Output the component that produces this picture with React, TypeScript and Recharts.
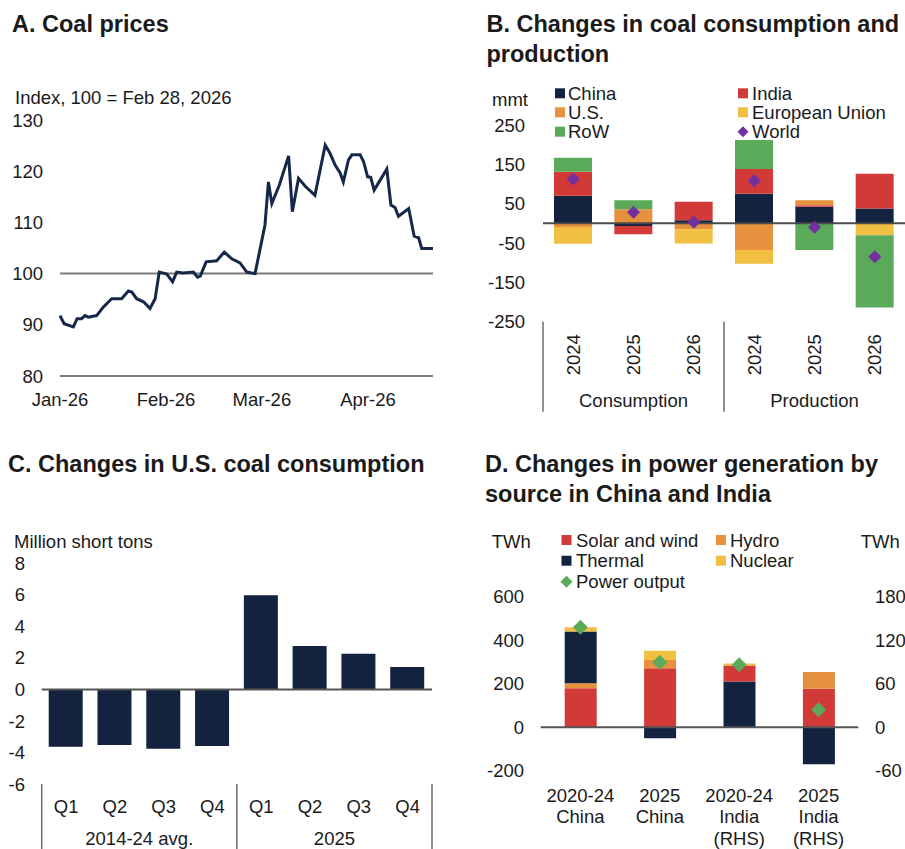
import React from "react";
import {
  LineChart,
  Line,
  BarChart,
  Bar,
  ComposedChart,
  XAxis,
  YAxis,
  ReferenceLine,
} from "recharts";

const FONT = '"Liberation Sans", Arial, Helvetica, sans-serif';
const INK = "#1a1a1a";
const NAVY = "#13233f";
const RED = "#d23a38";
const ORANGE = "#e5913d";
const YELLOW = "#f1bf42";
const GREEN = "#5aaa5a";
const PURPLE = "#7030a0";
const RULE = "#6b6b6b";
const FS = 18.5;

// A. coal price index (day offset from Jan 1, 2026)
const coalDays = [
  0, 1.2, 3.9, 5, 6.3, 7.3, 8.3, 10.7, 12.7, 15.1,
  18, 20, 21, 22.4, 24.4, 26.3, 27.8, 29, 31.2, 32.9,
  34.1, 36, 39, 40.2, 41, 42.7, 45.8, 48, 50.2, 52.6,
  54.6, 57, 59.9, 60.9, 61.9, 64.1, 66.8, 67.9, 69.7, 71.6,
  74.5, 77.5, 78.9, 80.4, 81.9, 82.8, 84.3, 85.3, 87.7, 88.7,
  89.9, 90.8, 91.8, 95.5, 96.7, 97.9, 98.9, 101.9, 103.5, 104.8,
  105.7, 109,
];
const coalIndex = [
  91.8, 90.2, 89.6, 91.2, 91.2, 91.8, 91.5, 91.8, 93.5, 95.1,
  95.1, 96.6, 96.4, 95.1, 94.5, 93.2, 95.1, 100.3, 99.9, 98.4,
  100.3, 100.1, 100.3, 99.3, 99.5, 102.3, 102.5, 104.2, 102.9, 102.1,
  100.3, 100, 109.5, 117.9, 113.7, 117.3, 123, 112.1, 118.6, 117.1,
  115.3, 125.1, 123.5, 121.2, 119.6, 117.9, 122.2, 123.2, 123.2, 121.9,
  118.9, 118.8, 116.3, 120.4, 113.4, 112.9, 111.2, 112.7, 107.3, 107,
  104.9, 104.9,
];
const monthTicks = [0, 31, 59, 90];
const monthLabels = ["Jan-26", "Feb-26", "Mar-26", "Apr-26"];
const priceTicks = [80, 90, 100, 110, 120, 130];

// B. coal consumption / production changes, mmt
const coalYears = ["2024", "2025", "2026", "2024", "2025", "2026"];
const coalGroups = ["Consumption", "Production"];
const chinaCoal = [70, -7, 8, 75, 42, 38];
const indiaCoal = [61, -21, 47, 63, 4, 88];
const usCoal = [-9, 36, -15, -68, 13, 0];
const euCoal = [-43, 0, -36, -35, 0, -30];
const rowCoal = [36, 23, 0, 74, -68, -184];
const worldCoal = [113, 28, 2.5, 108, -10, -85];
const mmtTicks = [-250, -150, -50, 50, 150, 250];

// C. U.S. coal consumption changes, million short tons
const usQuarters = ["Q1", "Q2", "Q3", "Q4", "Q1", "Q2", "Q3", "Q4"];
const usPeriods = ["2014-24 avg.", "2025"];
const usChange = [-3.64, -3.53, -3.76, -3.59, 5.98, 2.75, 2.26, 1.42];
const usTicks = [-6, -4, -2, 0, 2, 4, 6, 8];

// D. power generation changes, TWh (India on RHS)
const powerLabels = [
  ["2020-24", "China"],
  ["2025", "China"],
  ["2020-24", "India", "(RHS)"],
  ["2025", "India", "(RHS)"],
];
const chinaSolar = [179, 271, null, null];
const chinaHydro = [23, 38, null, null];
const chinaThermal = [238, -51, null, null];
const chinaNuclear = [20, 42, null, null];
const chinaOutput = [460, 299, null, null];
const indiaThermal = [null, null, 63, -51];
const indiaSolar = [null, null, 22, 53];
const indiaHydro = [null, null, 0, 23];
const indiaNuclear = [null, null, 3, 0];
const indiaOutput = [null, null, 86, 24];
const leftTwh = [-200, 0, 200, 400, 600];
const rightTwh = [-60, 0, 60, 120, 180];

const priceData = coalDays.map((d, i) => ({ day: d, value: coalIndex[i] }));
const coalData = coalYears.map((y, i) => ({
  key: `${coalGroups[Math.floor(i / 3)]} ${y}`,
  china: chinaCoal[i],
  india: indiaCoal[i],
  us: usCoal[i],
  eu: euCoal[i],
  row: rowCoal[i],
  world: worldCoal[i],
}));
const usData = usQuarters.map((q, i) => ({ key: `${q}-${i}`, value: usChange[i] }));
const powerData = powerLabels.map((l, i) => ({
  key: l.join(" "),
  chinaSolar: chinaSolar[i],
  chinaHydro: chinaHydro[i],
  chinaThermal: chinaThermal[i],
  chinaNuclear: chinaNuclear[i],
  chinaOutput: chinaOutput[i],
  indiaThermal: indiaThermal[i],
  indiaSolar: indiaSolar[i],
  indiaHydro: indiaHydro[i],
  indiaNuclear: indiaNuclear[i],
  indiaOutput: indiaOutput[i],
}));

const tickStyle = { fill: INK, fontSize: FS };

const diamond = (color: string, r: number) => (props: any) => {
  const { cx, cy, index } = props;
  if (cx == null || cy == null || !isFinite(cy)) return <g key={`d-${index}`} />;
  return (
    <path
      key={`d-${index}`}
      d={`M${cx},${cy - r}L${cx + r},${cy}L${cx},${cy + r}L${cx - r},${cy}Z`}
      fill={color}
    />
  );
};

const YearTick = (props: any) => {
  const { x, y, payload, index } = props;
  const half = payload?.offset || 30.2;
  const cy = y + 33;
  return (
    <g>
      <text
        x={x}
        y={cy + 6.6}
        transform={`rotate(-90 ${x} ${cy})`}
        textAnchor="middle"
        fontSize={FS}
        fill={INK}
      >
        {coalYears[index]}
      </text>
      {index % 3 === 0 && (
        <>
          <line x1={x - half} x2={x - half} y1={y} y2={y + 90} stroke={RULE} strokeWidth={1.5} />
          <text x={x + 2 * half} y={y + 85} textAnchor="middle" fontSize={FS} fill={INK}>
            {coalGroups[index / 3]}
          </text>
        </>
      )}
    </g>
  );
};

const QuarterTick = (props: any) => {
  const { x, y, payload, index } = props;
  const half = payload?.offset || 24.4;
  return (
    <g>
      <text x={x} y={y + 28.6} textAnchor="middle" fontSize={FS} fill={INK}>
        {usQuarters[index]}
      </text>
      {index % 4 === 0 && (
        <>
          <line x1={x - half} x2={x - half} y1={y} y2={y + 70} stroke={RULE} strokeWidth={1.5} />
          <text x={x + 3 * half} y={y + 60.5} textAnchor="middle" fontSize={FS} fill={INK}>
            {usPeriods[index / 4]}
          </text>
        </>
      )}
      {index === usQuarters.length - 1 && (
        <line x1={x + half} x2={x + half} y1={y} y2={y + 70} stroke={RULE} strokeWidth={1.5} />
      )}
    </g>
  );
};

const PowerTick = (props: any) => {
  const { x, y, index } = props;
  const lines = powerLabels[index] || [];
  return (
    <g>
      {lines.map((t, k) => (
        <text key={k} x={x} y={y + 31 + k * 21.5} textAnchor="middle" fontSize={FS} fill={INK}>
          {t}
        </text>
      ))}
    </g>
  );
};

function PanelA() {
  return (
    <LineChart width={450} height={430} data={priceData} margin={{ top: 120, right: 17, bottom: 24, left: 0 }}>
      <XAxis
        type="number"
        dataKey="day"
        domain={[0, 109]}
        ticks={monthTicks}
        interval={0}
        tickFormatter={(v: number) => monthLabels[monthTicks.indexOf(v)]}
        axisLine={false}
        tickLine={false}
        tickSize={0}
        tickMargin={17}
        height={30}
        tick={tickStyle}
      />
      <YAxis
        domain={[80, 130]}
        ticks={priceTicks}
        interval={0}
        axisLine={false}
        tickLine={false}
        tickSize={0}
        tickMargin={17}
        width={60}
        tick={tickStyle}
      />
      <ReferenceLine y={100} stroke="#7a7a7a" strokeWidth={2} />
      <ReferenceLine y={80} stroke="#7a7a7a" strokeWidth={2} />
      <Line
        type="linear"
        dataKey="value"
        stroke="#15284a"
        strokeWidth={3}
        dot={false}
        activeDot={false}
        isAnimationActive={false}
      />
    </LineChart>
  );
}

function PanelB() {
  return (
    <ComposedChart
      width={425}
      height={420}
      data={coalData}
      stackOffset="sign"
      margin={{ top: 125, right: 0, bottom: 0, left: 0 }}
    >
      <XAxis
        dataKey="key"
        interval={0}
        axisLine={false}
        tickLine={false}
        tickSize={0}
        tickMargin={0}
        height={98.3}
        tick={<YearTick />}
      />
      <YAxis
        domain={[-250, 250]}
        ticks={mmtTicks}
        interval={0}
        axisLine={false}
        tickLine={false}
        tickSize={0}
        tickMargin={18}
        width={63}
        tick={tickStyle}
      />
      <Bar dataKey="china" stackId="c" fill={NAVY} barSize={38} isAnimationActive={false} />
      <Bar dataKey="india" stackId="c" fill={RED} barSize={38} isAnimationActive={false} />
      <Bar dataKey="us" stackId="c" fill={ORANGE} barSize={38} isAnimationActive={false} />
      <Bar dataKey="eu" stackId="c" fill={YELLOW} barSize={38} isAnimationActive={false} />
      <Bar dataKey="row" stackId="c" fill={GREEN} barSize={38} isAnimationActive={false} />
      <ReferenceLine y={0} stroke="#4a4a4a" strokeWidth={2} />
      <Line
        dataKey="world"
        stroke="none"
        dot={diamond(PURPLE, 6.5)}
        activeDot={false}
        isAnimationActive={false}
      />
    </ComposedChart>
  );
}

function PanelC() {
  return (
    <BarChart width={450} height={409} data={usData} margin={{ top: 123.3, right: 18, bottom: 0, left: 0 }}>
      <XAxis
        dataKey="key"
        interval={0}
        axisLine={false}
        tickLine={false}
        tickSize={0}
        tickMargin={0}
        height={65}
        tick={<QuarterTick />}
      />
      <YAxis
        domain={[-6, 8]}
        ticks={usTicks}
        interval={0}
        axisLine={false}
        tickLine={false}
        tickSize={0}
        tickMargin={16.7}
        width={41.7}
        tick={tickStyle}
      />
      <Bar dataKey="value" fill={NAVY} barSize={34} isAnimationActive={false} />
      <ReferenceLine y={0} stroke="#555555" strokeWidth={2} />
    </BarChart>
  );
}

function PanelD() {
  return (
    <ComposedChart
      width={435}
      height={409}
      data={powerData}
      stackOffset="sign"
      margin={{ top: 156.7, right: 0, bottom: 0, left: 0 }}
    >
      <XAxis
        dataKey="key"
        interval={0}
        axisLine={false}
        tickLine={false}
        tickSize={0}
        tickMargin={0}
        height={78.3}
        tick={<PowerTick />}
      />
      <YAxis
        yAxisId="left"
        domain={[-200, 600]}
        ticks={leftTwh}
        interval={0}
        axisLine={false}
        tickLine={false}
        tickSize={0}
        tickMargin={16.7}
        width={70.7}
        tick={tickStyle}
      />
      <YAxis
        yAxisId="right"
        orientation="right"
        domain={[-60, 180]}
        ticks={rightTwh}
        interval={0}
        axisLine={false}
        tickLine={false}
        tickSize={0}
        tickMargin={16.7}
        width={46.7}
        tick={{ ...tickStyle, textAnchor: "start" }}
      />
      <Bar yAxisId="left" dataKey="chinaSolar" stackId="p" fill={RED} barSize={32} isAnimationActive={false} />
      <Bar yAxisId="left" dataKey="chinaHydro" stackId="p" fill={ORANGE} barSize={32} isAnimationActive={false} />
      <Bar yAxisId="left" dataKey="chinaThermal" stackId="p" fill={NAVY} barSize={32} isAnimationActive={false} />
      <Bar yAxisId="left" dataKey="chinaNuclear" stackId="p" fill={YELLOW} barSize={32} isAnimationActive={false} />
      <Bar yAxisId="right" dataKey="indiaThermal" stackId="p" fill={NAVY} barSize={32} isAnimationActive={false} />
      <Bar yAxisId="right" dataKey="indiaSolar" stackId="p" fill={RED} barSize={32} isAnimationActive={false} />
      <Bar yAxisId="right" dataKey="indiaHydro" stackId="p" fill={ORANGE} barSize={32} isAnimationActive={false} />
      <Bar yAxisId="right" dataKey="indiaNuclear" stackId="p" fill={YELLOW} barSize={32} isAnimationActive={false} />
      <ReferenceLine yAxisId="left" y={0} stroke="#555555" strokeWidth={2} />
      <Line
        yAxisId="left"
        dataKey="chinaOutput"
        stroke="none"
        dot={diamond(GREEN, 7.5)}
        activeDot={false}
        isAnimationActive={false}
      />
      <Line
        yAxisId="right"
        dataKey="indiaOutput"
        stroke="none"
        dot={diamond(GREEN, 7.5)}
        activeDot={false}
        isAnimationActive={false}
      />
    </ComposedChart>
  );
}

const sq = (x: number, cy: number, color: string, s = 10) => (
  <rect x={x} y={cy - s / 2} width={s} height={s} fill={color} />
);
const dm = (cx: number, cy: number, color: string, r: number) => (
  <path d={`M${cx},${cy - r}L${cx + r},${cy}L${cx},${cy + r}L${cx - r},${cy}Z`} fill={color} />
);

export default function App() {
  return (
    <div
      style={{
        position: "absolute",
        left: 0,
        top: 0,
        width: 905,
        height: 849,
        background: "#fff",
        fontFamily: FONT,
        overflow: "hidden",
      }}
    >
      <div style={{ position: "absolute", left: 0, top: 0 }}>
        <PanelA />
      </div>
      <div style={{ position: "absolute", left: 480, top: 0 }}>
        <PanelB />
      </div>
      <div style={{ position: "absolute", left: 0, top: 440 }}>
        <PanelC />
      </div>
      <div style={{ position: "absolute", left: 470, top: 440 }}>
        <PanelD />
      </div>
      <svg
        width={905}
        height={849}
        style={{ position: "absolute", left: 0, top: 0, pointerEvents: "none" }}
        fontFamily={FONT}
      >
        <g fontWeight="bold" fontSize={23.5} fill={INK}>
          <text x={12} y={31.5}>A. Coal prices</text>
          <text x={486.5} y={32}>B. Changes in coal consumption and</text>
          <text x={486.5} y={61.5}>production</text>
          <text x={8} y={472}>C. Changes in U.S. coal consumption</text>
          <text x={485} y={472}>D. Changes in power generation by</text>
          <text x={485} y={501.5}>source in China and India</text>
        </g>
        <g fontSize={FS} fill={INK}>
          <text x={15} y={104}>Index, 100 = Feb 28, 2026</text>
          <text x={492} y={106}>mmt</text>
          <text x={14} y={548.3}>Million short tons</text>
          <text x={491.7} y={548}>TWh</text>
          <text x={860.7} y={548}>TWh</text>

          {sq(555, 93.3, NAVY)}
          <text x={568} y={100}>China</text>
          {sq(555, 112.3, ORANGE)}
          <text x={568} y={119}>U.S.</text>
          {sq(555, 131.7, GREEN)}
          <text x={568} y={138.3}>RoW</text>
          {sq(738, 93.3, RED)}
          <text x={752} y={100}>India</text>
          {sq(738, 112.3, YELLOW)}
          <text x={752} y={119}>European Union</text>
          {dm(743, 131.7, PURPLE, 5.5)}
          <text x={752} y={138.3}>World</text>

          {sq(561.5, 540, RED)}
          <text x={576} y={546.6}>Solar and wind</text>
          {sq(561.5, 560.7, NAVY)}
          <text x={576} y={567.3}>Thermal</text>
          {dm(566.5, 581.7, GREEN, 6)}
          <text x={576} y={588.3}>Power output</text>
          {sq(716, 540, ORANGE)}
          <text x={730} y={546.6}>Hydro</text>
          {sq(716, 560.7, YELLOW)}
          <text x={730} y={567.3}>Nuclear</text>
        </g>
      </svg>
    </div>
  );
}
